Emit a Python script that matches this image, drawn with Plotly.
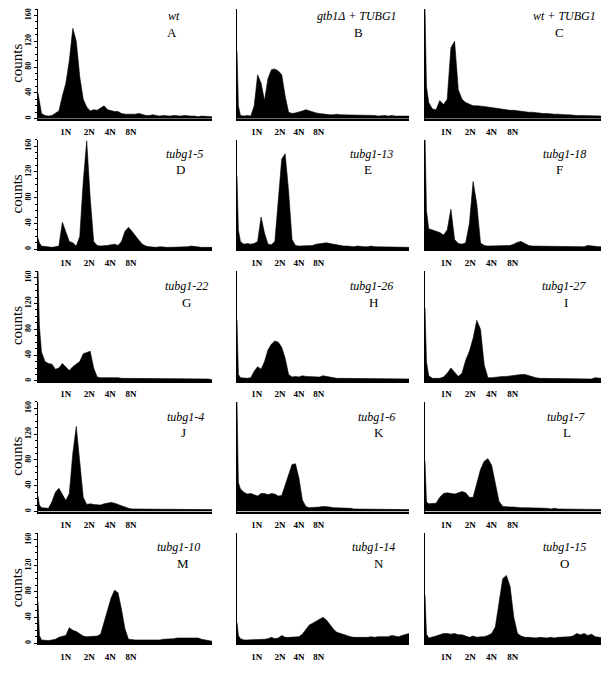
import plotly.graph_objects as go

# ---------------- data ----------------
CHANNELS = [0, 0.8, 2, 4, 6, 8, 10, 12, 14, 16, 18, 20, 22, 24, 26, 28, 30, 32, 34, 36, 38, 40,
            42, 44, 46, 48, 50, 52, 54, 56, 58, 60, 62, 64, 66, 68, 70, 72, 74, 76, 78, 80,
            82, 84, 86, 88, 90, 92, 94, 96, 98, 100]

PANEL_LETTERS = ["A", "B", "C", "D", "E", "F", "G", "H", "I", "J", "K", "L", "M", "N", "O"]
GENOTYPES = ["wt", "gtb1Δ + TUBG1", "wt + TUBG1",
             "tubg1-5", "tubg1-13", "tubg1-18",
             "tubg1-22", "tubg1-26", "tubg1-27",
             "tubg1-4", "tubg1-6", "tubg1-7",
             "tubg1-10", "tubg1-14", "tubg1-15"]

COUNTS_A = [40, 25, 8, 5, 4, 5, 8, 12, 35, 55, 90, 140, 120, 65, 30, 18, 12, 14, 13, 17, 20, 14,
            12, 11, 11, 8, 7, 7, 6, 7, 8, 6, 5, 5, 6, 5, 4, 5, 4, 4, 5, 4, 4, 5, 4, 4, 4, 3, 4, 4, 3, 3]
COUNTS_B = [105, 20, 5, 4, 5, 4, 20, 68, 55, 28, 62, 76, 77, 74, 68, 35, 10, 8, 9, 10, 12, 14,
            12, 10, 9, 8, 7, 7, 6, 6, 7, 6, 6, 5, 6, 5, 5, 6, 5, 5, 5, 5, 4, 5, 5, 4, 5, 4, 4, 4, 4, 4]
COUNTS_C = [170, 50, 25, 15, 14, 28, 22, 30, 110, 120, 45, 30, 25, 22, 20, 20, 20, 19, 18, 17, 16, 15,
            14, 14, 13, 13, 12, 12, 11, 10, 10, 9, 9, 8, 8, 7, 7, 7, 6, 6, 6, 5, 5, 5, 5, 4, 4, 4, 4, 4, 4, 3]
COUNTS_D = [17, 10, 5, 4, 4, 3, 4, 5, 42, 28, 12, 10, 5, 20, 105, 168, 80, 12, 6, 5, 5, 6,
            7, 8, 6, 12, 28, 34, 28, 20, 14, 8, 5, 4, 3, 3, 4, 3, 3, 3, 3, 4, 3, 3, 4, 5, 4, 3, 3, 3, 3, 3]
COUNTS_E = [113, 30, 12, 8, 9, 8, 9, 12, 50, 25, 8, 7, 12, 80, 140, 148, 90, 15, 6, 5, 5, 5,
            5, 6, 8, 9, 10, 10, 9, 8, 6, 5, 5, 5, 4, 4, 5, 4, 4, 4, 5, 4, 4, 4, 4, 4, 3, 4, 3, 3, 3, 3]
COUNTS_F = [178, 60, 32, 30, 28, 26, 22, 30, 62, 15, 9, 8, 10, 40, 105, 70, 10, 6, 5, 5, 5, 5,
            6, 5, 6, 8, 11, 12, 9, 6, 5, 5, 4, 5, 4, 4, 5, 4, 4, 4, 5, 4, 4, 4, 4, 6, 5, 4, 4, 4, 4, 4]
COUNTS_G = [172, 85, 45, 30, 27, 26, 18, 20, 27, 22, 16, 22, 26, 30, 42, 44, 46, 20, 6, 5, 5, 6,
            5, 5, 5, 4, 4, 4, 4, 3, 4, 3, 3, 3, 3, 3, 3, 3, 3, 3, 3, 3, 3, 3, 3, 3, 3, 3, 3, 3, 3, 2]
COUNTS_H = [95, 10, 5, 4, 4, 5, 15, 22, 18, 30, 48, 57, 62, 60, 52, 35, 10, 6, 7, 6, 8, 7,
            7, 6, 7, 6, 8, 7, 5, 5, 4, 4, 4, 3, 4, 3, 3, 4, 3, 3, 3, 3, 3, 3, 3, 4, 3, 3, 3, 3, 3, 3]
COUNTS_I = [113, 30, 8, 4, 4, 4, 6, 12, 20, 14, 7, 12, 32, 46, 66, 94, 80, 25, 5, 5, 6, 6,
            7, 7, 8, 8, 9, 10, 10, 8, 6, 5, 4, 4, 4, 4, 3, 3, 4, 3, 3, 4, 3, 3, 3, 3, 3, 5, 4, 3, 3, 3]
COUNTS_J = [24, 10, 6, 5, 5, 15, 30, 36, 26, 17, 28, 90, 132, 80, 22, 11, 12, 11, 11, 10, 12, 13,
            14, 13, 11, 9, 6, 5, 4, 4, 4, 4, 4, 4, 4, 3, 4, 3, 3, 3, 3, 3, 3, 3, 3, 3, 3, 3, 3, 3, 3, 3]
COUNTS_K = [170, 45, 35, 30, 27, 28, 26, 24, 28, 28, 26, 28, 27, 24, 25, 40, 58, 73, 74, 52, 18, 8,
            6, 6, 7, 7, 8, 8, 7, 6, 6, 5, 5, 5, 5, 4, 4, 4, 4, 4, 4, 4, 4, 4, 4, 3, 4, 4, 3, 3, 4, 3]
COUNTS_L = [78, 15, 12, 12, 13, 22, 28, 29, 28, 27, 29, 31, 29, 22, 22, 42, 65, 78, 82, 72, 45, 16,
            8, 7, 7, 7, 6, 6, 6, 6, 5, 5, 5, 5, 5, 4, 5, 4, 4, 4, 4, 4, 4, 4, 4, 4, 4, 4, 3, 4, 3, 3]
COUNTS_M = [64, 12, 5, 4, 4, 5, 6, 9, 11, 12, 24, 20, 18, 15, 11, 10, 10, 10, 11, 14, 32, 52,
            70, 82, 78, 52, 22, 6, 5, 5, 5, 5, 4, 4, 5, 5, 5, 6, 6, 7, 7, 8, 8, 9, 9, 9, 9, 8, 6, 5, 4, 3]
COUNTS_N = [32, 12, 7, 5, 5, 5, 6, 6, 6, 6, 7, 9, 7, 8, 12, 9, 9, 9, 10, 10, 14, 22,
            28, 31, 34, 37, 40, 36, 28, 22, 17, 15, 13, 12, 10, 9, 9, 8, 9, 9, 10, 9,
            10, 10, 11, 10, 12, 11, 10, 12, 13, 15]
COUNTS_O = [75, 14, 8, 9, 11, 13, 15, 15, 14, 15, 13, 13, 11, 9, 11, 9, 10, 10, 12, 15, 25, 60,
            100, 105, 88, 40, 15, 11, 9, 9, 8, 8, 9, 8, 8, 9, 8, 9, 9, 10, 10, 11,
            15, 13, 15, 12, 14, 10, 9, 8, 7, 7]

ALL_COUNTS = [COUNTS_A, COUNTS_B, COUNTS_C, COUNTS_D, COUNTS_E, COUNTS_F, COUNTS_G, COUNTS_H,
              COUNTS_I, COUNTS_J, COUNTS_K, COUNTS_L, COUNTS_M, COUNTS_N, COUNTS_O]

PLOIDY_LABELS = ["1N", "2N", "4N", "8N"]
PLOIDY_POS_BY_COL = [[16, 29.5, 41.5, 53.5], [11.5, 25, 36, 47.5], [11.5, 24.5, 36, 47.5]]
Y_TICKS = [0, 40, 80, 120, 160]

# ---------------- layout geometry ----------------
W, H = 609, 692
COL_L = [30, 229, 417]
COL_R = [204, 401, 602]
ROW_BASE = [110, 241, 373, 504, 636]
PANEL_H = 110
TXT_DY = [7, 14, 15, 15, 14]
LET_DY = [24, 30, 31, 31, 30]
TXT_X = [166, 349, 556, 176, 363, 556, 179, 363, 556, 177, 368, 558, 170, 365, 556]
LET_X = [164, 350, 551, 172, 360, 551, 179, 365, 558, 175, 371, 559, 175, 371, 556]

SERIF = "Liberation Serif, Times New Roman, serif"

fig = go.Figure()
layout = dict(width=W, height=H, margin=dict(l=0, r=0, t=0, b=0),
              paper_bgcolor="white", plot_bgcolor="white", showlegend=False)
annotations = []

for i in range(15):
    r, c = divmod(i, 3)
    k = i + 1
    xs = "x" if k == 1 else f"x{k}"
    ys = "y" if k == 1 else f"y{k}"
    fig.add_trace(go.Scatter(x=CHANNELS, y=ALL_COUNTS[i], mode="lines",
                             line=dict(color="black", width=0.6), fill="tozeroy",
                             fillcolor="black", xaxis=xs, yaxis=ys, hoverinfo="skip"))
    base = ROW_BASE[r]
    xa = dict(domain=[COL_L[c] / W, COL_R[c] / W], range=[0, 100], anchor=ys,
              showline=True, linecolor="black", linewidth=1.5, showgrid=False, zeroline=False,
              tickmode="array", tickvals=PLOIDY_POS_BY_COL[c], ticktext=PLOIDY_LABELS,
              ticks="outside", ticklen=4, tickcolor="rgba(0,0,0,0)",
              tickfont=dict(family=SERIF, size=9, color="black", weight="bold"))
    ya = dict(domain=[1 - base / H, 1 - (base - PANEL_H) / H], range=[0, 170], anchor=xs,
              showline=True, linecolor="black", linewidth=1, showgrid=False, zeroline=False)
    if c == 0:
        ya.update(tickmode="array", tickvals=Y_TICKS, ticks="outside", ticklen=3,
                  tickcolor="black", tickangle=-90,
                  tickfont=dict(family=SERIF, size=8, color="black", weight="bold"),
                  minor=dict(dtick=10, ticks="outside", ticklen=2, tickcolor="black"))
        annotations.append(dict(x=9 / W, y=1 - (base - 55) / H, xref="paper", yref="paper",
                                xanchor="center", yanchor="middle",
                                text="counts", showarrow=False, textangle=-90,
                                font=dict(family=SERIF, size=15, color="black")))
    else:
        ya.update(showticklabels=False, ticks="")
    layout["xaxis" if k == 1 else f"xaxis{k}"] = xa
    layout["yaxis" if k == 1 else f"yaxis{k}"] = ya

    top = base - PANEL_H
    annotations.append(dict(x=TXT_X[i] / W, y=1 - (top + TXT_DY[r]) / H, xref="paper", yref="paper",
                            xanchor="center", yanchor="middle",
                            text=f"<i>{GENOTYPES[i]}</i>", showarrow=False,
                            font=dict(family=SERIF, size=12, color="black")))
    annotations.append(dict(x=LET_X[i] / W, y=1 - (top + LET_DY[r]) / H, xref="paper", yref="paper",
                            xanchor="center", yanchor="middle",
                            text=PANEL_LETTERS[i], showarrow=False,
                            font=dict(family=SERIF, size=13, color="black")))

layout["annotations"] = annotations
fig.update_layout(**layout)
fig.write_html("out.html")
